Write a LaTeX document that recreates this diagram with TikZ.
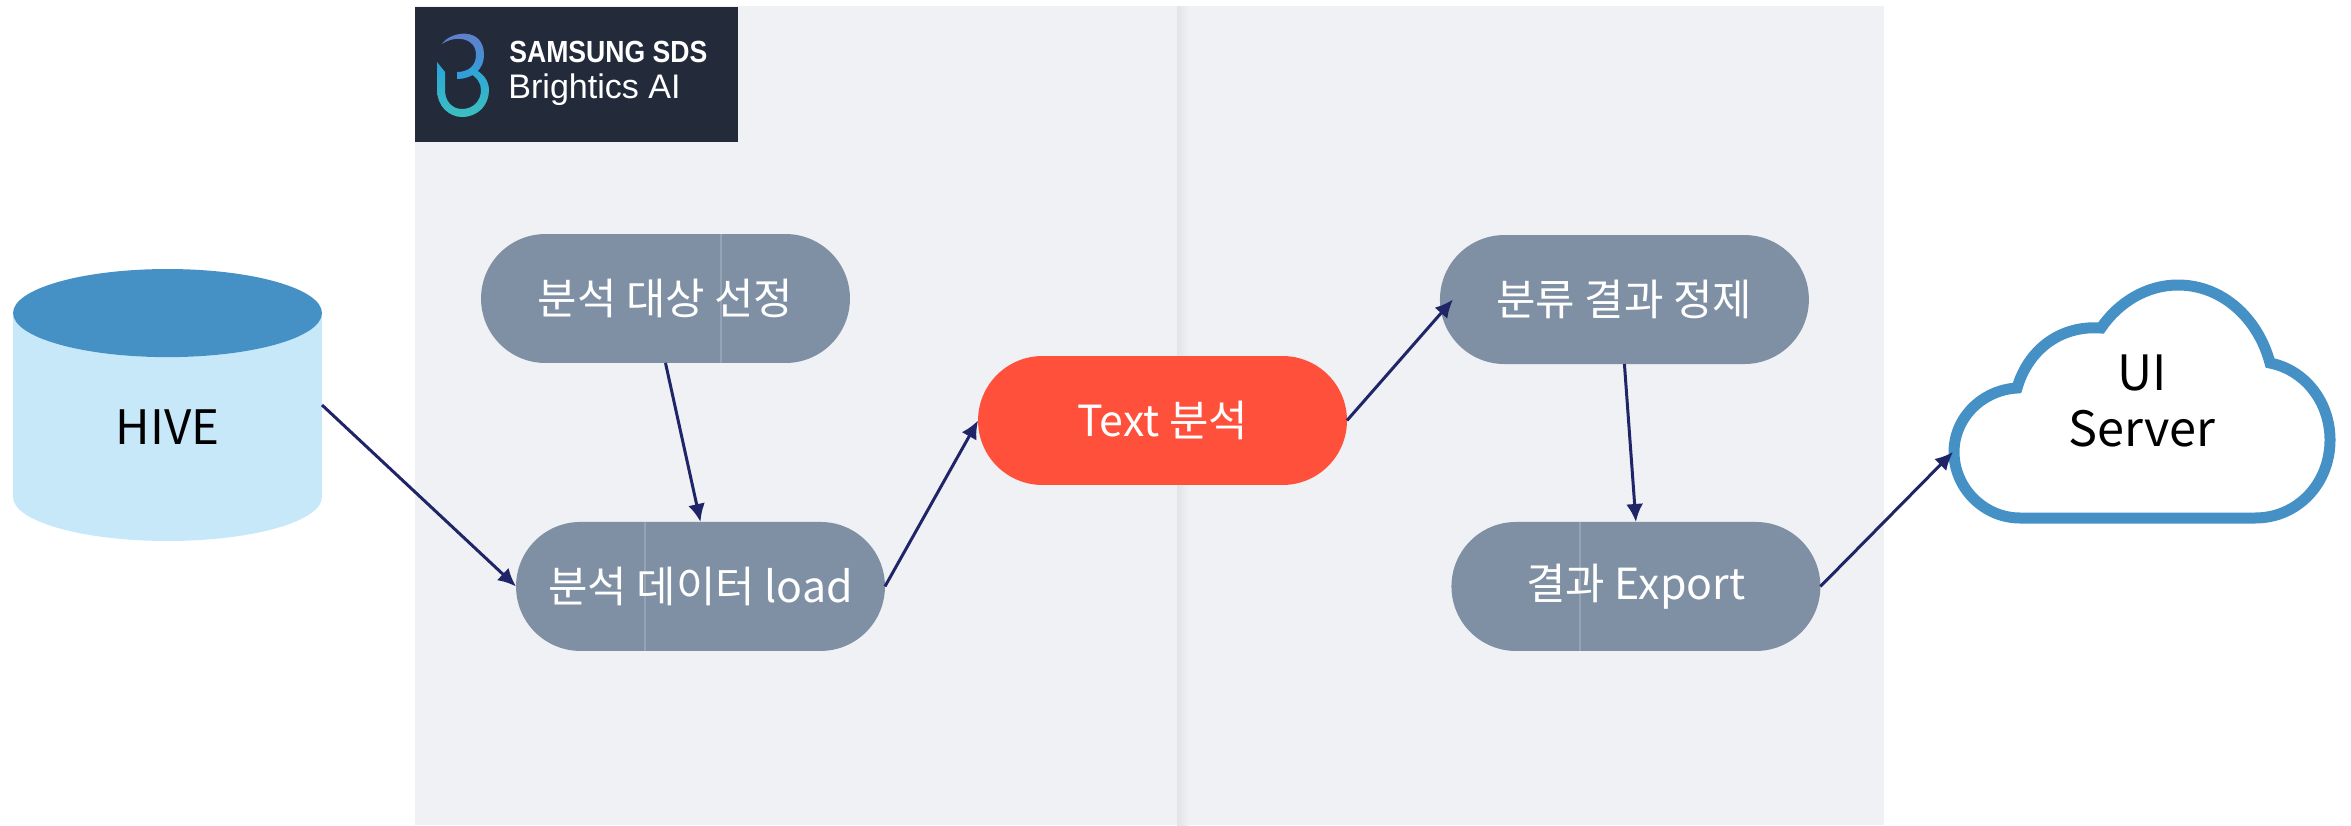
\documentclass[tikz,border=0pt]{standalone}
\usepackage{fontspec}
\setmainfont{Noto Sans CJK KR}
\newfontfamily\logofont[FakeStretch=0.87]{Liberation Sans}
\newfontfamily\productfont{Liberation Sans}
\usepackage{tikz}
\usetikzlibrary{arrows.meta}
\usetikzlibrary{shapes.misc,shapes.geometric}
\usetikzlibrary{positioning}
\definecolor{panelgray}{HTML}{EFF1F5}
\definecolor{seamgray}{HTML}{E2E4E8}
\definecolor{pillslate}{HTML}{7F8FA4}
\definecolor{pillred}{HTML}{FF503C}
\definecolor{hiveblue}{HTML}{4591C6}
\definecolor{hivelight}{HTML}{C7E8F9}
\definecolor{arrownavy}{HTML}{1F2566}
\definecolor{logonavy}{HTML}{232A3A}
\definecolor{logopurple}{HTML}{6B78C8}
\definecolor{logosky}{HTML}{2BA2DC}
\definecolor{logoteal}{HTML}{3CC0BE}
\begin{document}
\begin{tikzpicture}[
    x=0.02cm, y=-0.02cm,
    stage style/.style={rounded rectangle, fill=pillslate, text=white, minimum width=7.38cm, minimum height=2.58cm, inner sep=0pt, outer sep=0pt, font=\fontsize{24.4}{30}\selectfont},
    focus style/.style={stage style, fill=pillred},
    store style/.style={cylinder, shape border rotate=90, aspect=0.85, cylinder uses custom fill, cylinder body fill=hivelight, cylinder end fill=hiveblue, minimum width=6.18cm, minimum height=5.44cm, inner sep=0pt, outer sep=0pt, font=\fontsize{27}{32}\selectfont},
    flow/.style={draw=arrownavy, line width=0.06cm, -{Latex[length=0.36cm,width=0.34cm]}},
    seam/.style={draw=white, draw opacity=0.18, line width=0.03cm}
]
\useasboundingbox (0,0) rectangle (2351,825);
\fill[panelgray] (415,6) rectangle (1884,825);
\shade[left color=seamgray, right color=panelgray] (1177,6) rectangle (1189,825);
\fill[logonavy] (415,7) rectangle (738,142);
\shade[top color=logopurple, bottom color=logosky] (442,44) .. controls (450,31) and (484,26) .. (484,55) .. controls (484,70) and (472,79) .. (457,79) -- (457,72) .. controls (468,72) and (476,66) .. (476,55) .. controls (476,37) and (455,35) .. (442,44) -- cycle;
\shade[top color=logosky, bottom color=logoteal] (437,62) -- (437,90) .. controls (437,106) and (449,117) .. (462,117) .. controls (478,117) and (489,105) .. (489,90) .. controls (489,80) and (482,72) .. (472,68) -- (469,73) .. controls (477,77) and (481,83) .. (481,90) .. controls (481,101) and (473,109) .. (462,109) .. controls (452,109) and (445,101) .. (445,90) -- (445,72) -- cycle;
\node[anchor=west, text=white, inner sep=0pt, font=\logofont\bfseries\fontsize{17.4}{20}\selectfont] (vendor) at (509,52) {SAMSUNG SDS};
\node[anchor=west, text=white, inner sep=0pt, font=\productfont\fontsize{19.4}{22}\selectfont] (product) at (508,90) {Brightics AI};
\node[store style, anchor=shape center] (hive) at (167.5,405) {HIVE};
\node[stage style] (select) at (665.5,298.5) {분석 대상 선정};
\node[stage style, below=3.18cm of select, xshift=0.7cm] (load) {분석 데이터 load};
\node[focus style] (analysis) at (1162.5,420.5) {Text 분석};
\node[stage style, right=1.86cm of analysis, yshift=2.42cm] (refine) {분류 결과 정제};
\node[stage style, below=3.16cm of refine, xshift=0.23cm] (export) {결과 Export};
\draw[seam] (721,234) -- (721,363);
\draw[seam] (645,522) -- (645,651);
\draw[seam] (1580,522) -- (1580,651);
\draw[draw=hiveblue, fill=white, line width=0.22cm] (2020,518) -- (2255,518) .. controls (2298,518) and (2330,483) .. (2330,440) .. controls (2330,402) and (2305,370) .. (2270,363) .. controls (2258,318) and (2222,285) .. (2178,285) .. controls (2146,285) and (2118,303) .. (2101,328) .. controls (2060,325) and (2028,350) .. (2017,388) .. controls (1982,390) and (1954,418) .. (1954,452) .. controls (1954,488) and (1984,518) .. (2020,518) -- cycle;
\node[align=center, inner sep=0pt, font=\fontsize{27.7}{32}\selectfont] (server) at (2142,401) {UI\\Server};
\coordinate (serverport) at (1953,452);
\draw[flow] (hive.shape center -| hive.east) -- (load.west);
\draw[flow] (select.south) -- (load.north);
\draw[flow] (load.east) -- (analysis.west);
\draw[flow] (analysis.east) -- ([xshift=0.26cm]refine.west);
\draw[flow] (refine.south) -- (export.north);
\draw[flow] (export.east) -- (serverport);
\end{tikzpicture}
\end{document}
